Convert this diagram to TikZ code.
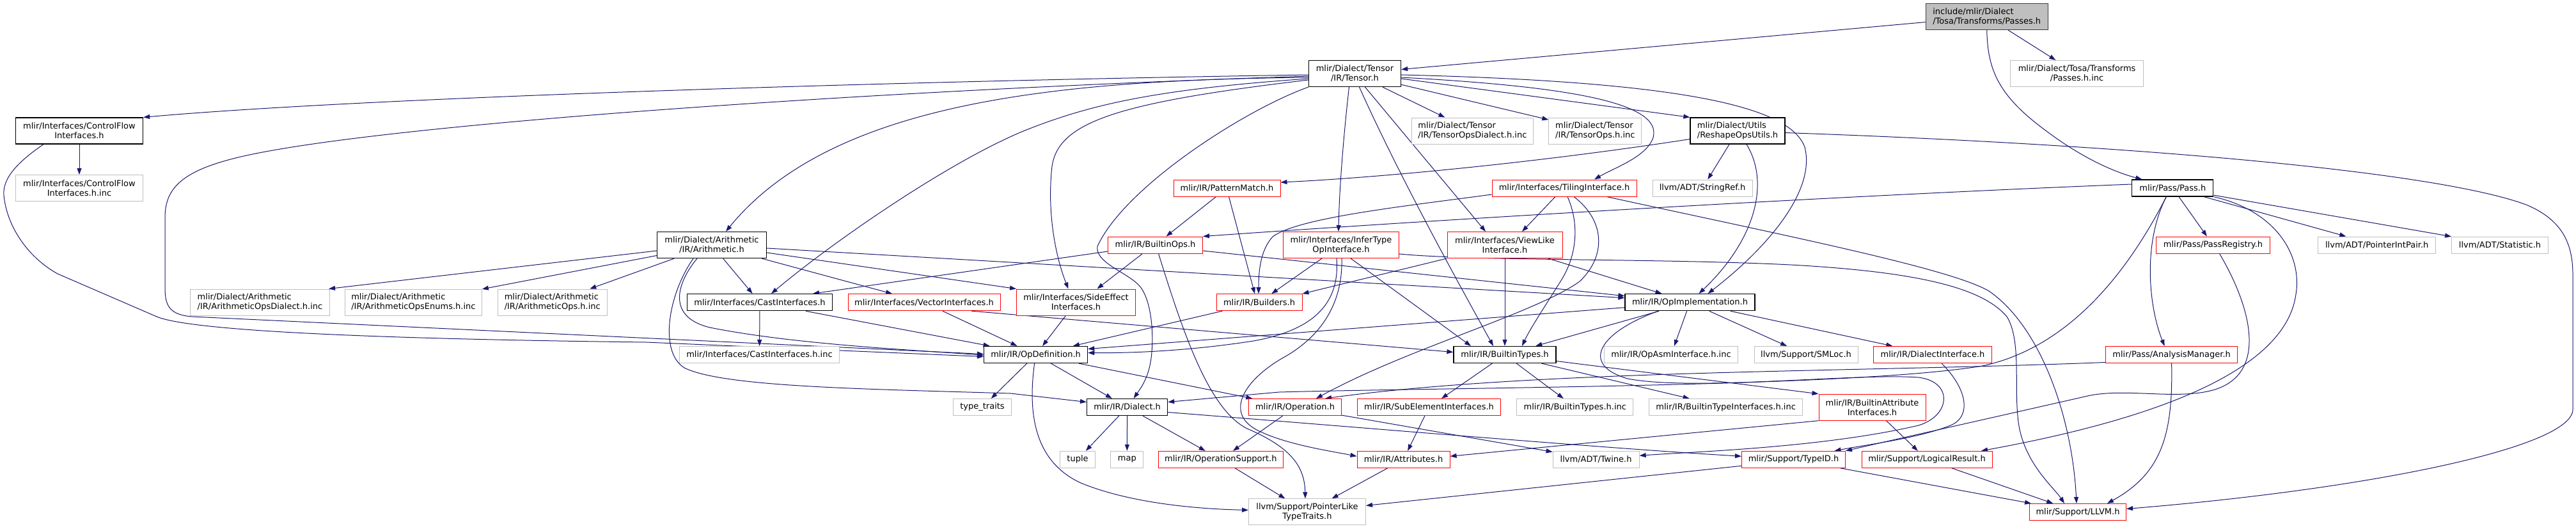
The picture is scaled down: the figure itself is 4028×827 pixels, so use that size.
\documentclass[tikz,border=0pt]{standalone}
\usepackage{fontspec}
\setmainfont{DejaVu Sans}
\usetikzlibrary{arrows.meta}
\pgfdeclarelayer{bgl}
\pgfdeclarelayer{edges}
\pgfsetlayers{bgl,edges,main}
\definecolor{dxblue}{HTML}{191970}
\definecolor{dxgray}{HTML}{BFBFBF}
\definecolor{dxred}{HTML}{FF0000}
\definecolor{dxdark}{HTML}{404040}
\newcommand\dxfont{\fontsize{13pt}{15pt}\selectfont}
\tikzset{
  nb/.style={draw, rectangle, inner sep=0pt, font=\dxfont, text=black, line width=1pt, fill=white},
  bk/.style={nb, draw=black, line width=1.3pt},
  rd/.style={nb, draw=dxred},
  gy/.style={nb, draw=dxgray},
  rt/.style={nb, draw=dxdark, fill=dxgray, line width=1.3pt},
  ha/.style={minimum height=26pt},
  hb/.style={minimum height=41pt},
  e/.style={draw=dxblue, line width=1pt, -{Triangle[length=10pt,width=7pt]}},
}
\begin{document}
\begin{tikzpicture}[x=1pt,y=-1pt]
\useasboundingbox (0,0) rectangle (4028,827);
\begin{pgfonlayer}{bgl}
\fill[white] (0,0) rectangle (4028,827);
\end{pgfonlayer}
% row 0
\node[rt,hb,minimum width=191pt,align=left] (root) at (3106.7,26) {include/mlir/Dialect\\/Tosa/Transforms/Passes.h};
% row 1
\node[bk,hb,minimum width=144pt,align=center] (tensor) at (2118.5,115) {mlir/Dialect/Tensor\\/IR/Tensor.h};
\node[gy,hb,minimum width=208pt,align=center] (tosainc) at (3247.6,115) {mlir/Dialect/Tosa/Transforms\\/Passes.h.inc};
% row 2
\node[bk,hb,minimum width=199pt,align=center] (cf) at (124,204.5) {mlir/Interfaces/ControlFlow\\Interfaces.h};
\node[gy,hb,minimum width=190pt,align=left] (tdinc) at (2302.4,204.5) {mlir/Dialect/Tensor\\/IR/TensorOpsDialect.h.inc};
\node[gy,hb,minimum width=145pt,align=left] (toinc) at (2494.3,204.5) {mlir/Dialect/Tensor\\/IR/TensorOps.h.inc};
\node[bk,hb,minimum width=148pt,align=left] (reshape) at (2717,204.5) {mlir/Dialect/Utils\\/ReshapeOpsUtils.h};
% row 3
\node[gy,hb,minimum width=199pt,align=center] (cfinc) at (124,294) {mlir/Interfaces/ControlFlow\\Interfaces.h.inc};
\node[rd,ha,minimum width=167pt] (pm) at (1918.5,294) {mlir/IR/PatternMatch.h};
\node[rd,ha,minimum width=226pt] (tiling) at (2446,294) {mlir/Interfaces/TilingInterface.h};
\node[gy,ha,minimum width=156pt] (stringref) at (2662,294) {llvm/ADT/StringRef.h};
\node[bk,ha,minimum width=127pt] (pass) at (3397.3,294) {mlir/Pass/Pass.h};
% row 4
\node[bk,hb,minimum width=171pt,align=center] (arith) at (1113,383) {mlir/Dialect/Arithmetic\\/IR/Arithmetic.h};
\node[rd,ha,minimum width=148pt] (builtinops) at (1806.5,383) {mlir/IR/BuiltinOps.h};
\node[rd,hb,minimum width=181pt,align=center] (infertype) at (2097,383) {mlir/Interfaces/InferType\\OpInterface.h};
\node[rd,hb,minimum width=180pt,align=center] (viewlike) at (2353,383) {mlir/Interfaces/ViewLike\\Interface.h};
\node[rd,ha,minimum width=178pt] (passreg) at (3460.5,383) {mlir/Pass/PassRegistry.h};
\node[gy,ha,minimum width=184pt] (pip) at (3716.7,383) {llvm/ADT/PointerIntPair.h};
\node[gy,ha,minimum width=151pt] (stat) at (3909,383) {llvm/ADT/Statistic.h};
% row 5
\node[gy,hb,minimum width=218pt,align=left] (aodinc) at (406.5,472.5) {mlir/Dialect/Arithmetic\\/IR/ArithmeticOpsDialect.h.inc};
\node[gy,hb,minimum width=214pt,align=left] (aoeinc) at (646.4,472.5) {mlir/Dialect/Arithmetic\\/IR/ArithmeticOpsEnums.h.inc};
\node[gy,hb,minimum width=171pt,align=left] (aooinc) at (863.8,472.5) {mlir/Dialect/Arithmetic\\/IR/ArithmeticOps.h.inc};
\node[bk,ha,minimum width=227pt] (cast) at (1188,472.7) {mlir/Interfaces/CastInterfaces.h};
\node[rd,ha,minimum width=238pt] (vector) at (1445,472.7) {mlir/Interfaces/VectorInterfaces.h};
\node[rd,hb,minimum width=186pt,align=center] (sideeffect) at (1682.5,472.5) {mlir/Interfaces/SideEffect\\Interfaces.h};
\node[rd,ha,minimum width=134pt] (builders) at (1969,472.7) {mlir/IR/Builders.h};
\node[bk,ha,minimum width=203pt] (opimpl) at (2642.5,472.7) {mlir/IR/OpImplementation.h};
% row 6
\node[gy,ha,minimum width=250pt] (castinc) at (1187.5,554.5) {mlir/Interfaces/CastInterfaces.h.inc};
\node[bk,ha,minimum width=162pt] (opdef) at (1619.6,554.5) {mlir/IR/OpDefinition.h};
\node[bk,ha,minimum width=160pt] (bt) at (2353,554.5) {mlir/IR/BuiltinTypes.h};
\node[gy,ha,minimum width=209pt] (opasm) at (2613,554.5) {mlir/IR/OpAsmInterface.h.inc};
\node[gy,ha,minimum width=162pt] (smloc) at (2824,554.5) {llvm/Support/SMLoc.h};
\node[rd,ha,minimum width=185pt] (diface) at (3022,554.5) {mlir/IR/DialectInterface.h};
\node[rd,ha,minimum width=206pt] (analysis) at (3395.6,554.5) {mlir/Pass/AnalysisManager.h};
% row 7
\node[gy,ha,minimum width=91pt] (typetraits) at (1536,636.5) {type\_traits};
\node[bk,ha,minimum width=126pt] (dialect) at (1762.6,636.5) {mlir/IR/Dialect.h};
\node[rd,ha,minimum width=145pt] (operation) at (2025,636.5) {mlir/IR/Operation.h};
\node[rd,ha,minimum width=224pt] (subelem) at (2234.5,636.5) {mlir/IR/SubElementInterfaces.h};
\node[gy,ha,minimum width=182pt] (btinc) at (2462.8,636.5) {mlir/IR/BuiltinTypes.h.inc};
\node[gy,ha,minimum width=240pt] (btiinc) at (2698.6,636.5) {mlir/IR/BuiltinTypeInterfaces.h.inc};
\node[rd,hb,minimum width=167pt,align=center] (battr) at (2927.5,636.7) {mlir/IR/BuiltinAttribute\\Interfaces.h};
% row 8
\node[gy,ha,minimum width=55pt] (tuple) at (1685,718.3) {tuple};
\node[gy,ha,minimum width=51pt] (map) at (1762.3,718.3) {map};
\node[rd,ha,minimum width=195pt] (opsupport) at (1908.8,718.3) {mlir/IR/OperationSupport.h};
\node[rd,ha,minimum width=145pt] (attributes) at (2194.5,718.3) {mlir/IR/Attributes.h};
\node[gy,ha,minimum width=135pt] (twine) at (2495.6,718.3) {llvm/ADT/Twine.h};
\node[rd,ha,minimum width=162pt] (typeid) at (2804.5,718.3) {mlir/Support/TypeID.h};
\node[rd,ha,minimum width=204pt] (logical) at (3013,718.3) {mlir/Support/LogicalResult.h};
% row 9
\node[gy,hb,minimum width=183pt,align=center] (ptrlike) at (2044,800.4) {llvm/Support/PointerLike\\TypeTraits.h};
\node[rd,ha,minimum width=151pt] (llvm) at (3249,800.5) {mlir/Support/LLVM.h};

\begin{pgfonlayer}{edges}
% root
\draw[e] (root) -- (tensor);
\draw[e] (root) -- (tosainc);
\draw[e] (root.south) .. controls (3108,110) and (3125,150) .. (3200,205) .. controls (3260,250) and (3310,270) .. ([xshift=-48pt]pass.north);
% tensor
\draw[e] ([yshift=-2pt]tensor.west) .. controls (1500,125) and (600,150) .. (cf.north east);
\draw[e] ([yshift=-4pt]tensor.west) .. controls (1400,140) and (650,190) .. (400,240) .. controls (290,262) and (258,290) .. (258,340) -- (258,450) .. controls (258,478) and (265,492) .. (300,495) -- ([yshift=1pt]opdef.west);
\draw[e] ([yshift=-6pt]tensor.west) .. controls (1650,125) and (1300,160) .. ([xshift=22pt]arith.north);
\draw[e] ([yshift=-8pt]tensor.west) .. controls (1800,140) and (1700,165) .. (1600,205) .. controls (1480,255) and (1300,380) .. ([xshift=18pt]cast.north);
\draw[e] ([yshift=-10pt]tensor.west) .. controls (1750,160) and (1655,190) .. (1645,260) .. controls (1637,330) and (1650,400) .. ([xshift=-12pt]sideeffect.north);
\draw[e] (tensor.south west) .. controls (1950,170) and (1760,290) .. (1716,385) .. controls (1712,410) and (1760,425) .. (1780,445) .. controls (1800,465) and (1805,520) .. (1800,560) .. controls (1796,590) and (1785,605) .. ([xshift=10pt]dialect.north);
\draw[e] ([xshift=-9pt]tensor.south) .. controls (2100,220) and (2094,300) .. ([xshift=-4pt]infertype.north);
\draw[e] ([xshift=7pt]tensor.south) .. controls (2190,280) and (2290,460) .. ([xshift=-18pt]bt.north);
\draw[e] ([xshift=16pt]tensor.south) -- ([xshift=-30pt]viewlike.north);
\draw[e] (tensor) -- (tdinc);
\draw[e] (tensor) -- (toinc);
\draw[e] ([yshift=-8pt]tensor.east) -- (reshape.north west);
\draw[e] ([yshift=-6pt]tensor.east) .. controls (2450,135) and (2600,160) .. (2585,215) .. controls (2575,245) and (2525,262) .. ([xshift=47pt]tiling.north);
\draw[e] ([yshift=-2pt]tensor.east) .. controls (2650,128) and (2800,170) .. (2822,230) .. controls (2840,300) and (2760,390) .. ([xshift=28pt]opimpl.north);
% control flow
\draw[e] (cf) -- (cfinc);
\draw[e] ([xshift=-56pt]cf.south) .. controls (25,255) and (4,280) .. (6,305) .. controls (10,350) and (40,400) .. (90,428) -- (245,495) .. controls (300,518) and (600,530) .. (1010,535) -- ([yshift=-3pt]opdef.west);
% reshape
\draw[e] ([yshift=-13pt]reshape.west) .. controls (2400,255) and (2150,278) .. ([yshift=9pt]pm.east);
\draw[e] (reshape) -- (stringref);
\draw[e] ([xshift=14pt]reshape.south) .. controls (2770,290) and (2740,380) .. ([xshift=14pt]opimpl.north);
\draw[e] ([yshift=-3pt]reshape.east) .. controls (3300,225) and (3800,265) .. (3950,320) .. controls (4010,345) and (4023,385) .. (4023,430) -- (4023,640) .. controls (4023,700) and (3700,765) .. ([yshift=5pt]llvm.east);
% pattern match
\draw[e] (pm) -- (builtinops);
\draw[e] ([xshift=3pt]pm.south) -- ([xshift=-7pt]builders.north);
% tiling
\draw[e] ([yshift=-10pt]tiling.west) .. controls (2200,322) and (2030,340) .. (1990,370) .. controls (1972,390) and (1968,420) .. ([xshift=-1pt]builders.north);
\draw[e] ([xshift=-14pt]tiling.south) -- ([xshift=27pt]viewlike.north);
\draw[e] ([xshift=5pt]tiling.south) .. controls (2470,350) and (2466,400) .. (2440,440) .. controls (2415,480) and (2392,515) .. ([xshift=27pt]bt.north);
\draw[e] ([xshift=15pt]tiling.south) .. controls (2510,345) and (2512,400) .. (2470,440) .. controls (2400,490) and (2200,545) .. ([xshift=33pt]operation.north);
\draw[e] ([xshift=66pt]tiling.south) .. controls (2800,370) and (3050,420) .. (3110,455) .. controls (3190,510) and (3240,650) .. ([xshift=-2pt]llvm.north);
% builtin ops
\draw[e] ([yshift=-10pt]builtinops.west) -- ([xshift=83pt]cast.north);
\draw[e] ([xshift=-20pt]builtinops.south) -- ([xshift=33pt]sideeffect.north);
\draw[e] ([yshift=-9pt]builtinops.east) -- ([yshift=10pt]opimpl.west);
\draw[e] ([xshift=5pt]builtinops.south) .. controls (1850,520) and (1890,640) .. (1950,670) .. controls (2020,700) and (2040,730) .. ([xshift=-3pt]ptrlike.north);
% arithmetic
\draw[e] ([yshift=-9pt]arith.west) -- ([xshift=-2pt]aodinc.north east);
\draw[e] (arith) -- (aoeinc);
\draw[e] (arith) -- (aooinc);
\draw[e] (arith) -- (cast);
\draw[e] (arith) -- (vector);
\draw[e] ([yshift=-12pt]arith.east) -- (sideeffect.north west);
\draw[e] ([yshift=-5pt]arith.east) -- ([yshift=7pt]opimpl.west);
\draw[e] ([xshift=-23pt]arith.south) .. controls (1060,440) and (1040,495) .. (1110,512) .. controls (1250,540) and (1450,548) .. ([yshift=-1pt]opdef.west);
\draw[e] ([xshift=-29pt]arith.south) .. controls (1045,460) and (1030,550) .. (1070,575) .. controls (1130,605) and (1350,608) .. (1580,615) -- ([yshift=8pt]dialect.west);
% cast, vector, side effect, builders
\draw[e] (cast) -- (castinc);
\draw[e] (cast) -- (opdef);
\draw[e] (vector) -- (opdef);
\draw[e] ([xshift=74pt]vector.south) -- ([yshift=4pt]bt.west);
\draw[e] (sideeffect) -- (opdef);
\draw[e] (builders) -- (opdef);
% infer type
\draw[e] (infertype) -- (builders);
\draw[e] ([xshift=-7pt]infertype.south) .. controls (2095,470) and (2060,515) .. (1960,533) .. controls (1850,550) and (1760,552) .. ([yshift=3pt]opdef.east);
\draw[e] ([xshift=15pt]infertype.south) -- ([xshift=-53pt]bt.north);
\draw[e] ([xshift=1pt]infertype.south) .. controls (2100,480) and (2060,530) .. (2005,560) .. controls (1945,595) and (1915,645) .. (1965,672) .. controls (2010,695) and (2080,705) .. ([yshift=5pt]attributes.west);
\draw[e] ([yshift=-14pt]infertype.east) .. controls (2300,408) and (2600,404) .. (2800,414) .. controls (3000,425) and (3100,450) .. (3138,495) .. controls (3160,530) and (3150,600) .. (3155,650) .. controls (3160,720) and (3210,760) .. ([xshift=-21pt]llvm.north);
% view like
\draw[e] (viewlike.south west) -- (builders.north east);
\draw[e] (viewlike) -- (bt);
\draw[e] (viewlike) -- (opimpl);
% op implementation
\draw[e] (opimpl) -- (bt);
\draw[e] (opimpl) -- (opasm);
\draw[e] (opimpl) -- (smloc);
\draw[e] (opimpl) -- (diface);
\draw[e] ([yshift=-8pt]opimpl.west) -- ([yshift=9pt]opdef.east);
\draw[e] ([xshift=-50pt]opimpl.south) .. controls (2500,520) and (2470,570) .. (2545,592) .. controls (2650,612) and (2900,583) .. (3000,590) .. controls (3055,597) and (3050,650) .. (3000,665) .. controls (2850,700) and (2650,706) .. ([yshift=6pt]twine.east);
% builtin types
\draw[e] (bt) -- (subelem);
\draw[e] (bt) -- (btinc);
\draw[e] (bt) -- (btiinc);
\draw[e] ([yshift=-10pt]bt.east) -- (battr.north west);
\draw[e] (subelem) -- (attributes);
\draw[e] (battr.south west) -- ([yshift=5pt]attributes.east);
\draw[e] (battr) -- (logical);
% op definition
\draw[e] (opdef) -- (typetraits);
\draw[e] (opdef) -- (dialect);
\draw[e] (opdef) -- (operation);
\draw[e] ([xshift=-2pt]opdef.south) .. controls (1605,660) and (1625,725) .. (1690,755) .. controls (1770,788) and (1880,796) .. ([yshift=3pt]ptrlike.west);
% dialect
\draw[e] (dialect) -- (tuple);
\draw[e] (dialect) -- (map);
\draw[e] (dialect) -- (opsupport);
\draw[e] ([yshift=-8pt]dialect.east) .. controls (2150,670) and (2500,700) .. ([yshift=5pt]typeid.west);
% operation and below
\draw[e] (operation) -- (opsupport);
\draw[e] (operation) -- (twine);
\draw[e] (opsupport) -- (ptrlike);
\draw[e] (attributes) -- (ptrlike);
\draw[e] ([yshift=-10pt]typeid.west) -- ([yshift=10pt]ptrlike.east);
\draw[e] (typeid) -- (llvm);
\draw[e] (logical) -- (llvm);
\draw[e] ([xshift=14pt]diface.south) .. controls (3078,610) and (3082,652) .. (3050,665) .. controls (3000,685) and (2920,695) .. ([xshift=64pt]typeid.north);
\draw[e] ([xshift=10pt]passreg.south) .. controls (3520,480) and (3548,585) .. (3460,610) .. controls (3400,626) and (3320,605) .. (3260,620) .. controls (3150,645) and (2950,690) .. (typeid.north east);
% pass
\draw[e] ([yshift=6pt]pass.west) .. controls (2900,305) and (2300,340) .. (builtinops.north east);
\draw[e] ([xshift=-10pt]pass.south) .. controls (3340,400) and (3250,540) .. (3100,572) .. controls (2900,605) and (2300,605) .. (2000,613) -- ([yshift=8pt]dialect.east);
\draw[e] ([xshift=-10pt]pass.south) .. controls (3350,380) and (3360,480) .. ([xshift=-11pt]analysis.north);
\draw[e] (pass) -- (passreg);
\draw[e] (pass) -- (pip);
\draw[e] (pass) -- (stat);
\draw[e] (pass.south east) .. controls (3560,330) and (3600,400) .. (3590,460) .. controls (3575,570) and (3400,650) .. ([xshift=85pt]logical.north);
% analysis manager
\draw[e] ([yshift=-12pt]analysis.west) .. controls (2900,582) and (2400,578) .. ([xshift=47pt]operation.north);
\draw[e] (analysis.south) .. controls (3398,680) and (3380,740) .. ([xshift=46pt]llvm.north);
\end{pgfonlayer}
\end{tikzpicture}
\end{document}
